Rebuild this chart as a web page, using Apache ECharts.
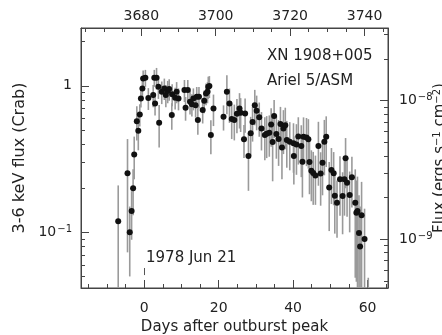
<!DOCTYPE html>
<html>
<head>
<meta charset="utf-8">
<script src="https://cdn.jsdelivr.net/npm/echarts@6/dist/echarts.min.js"></script>
<style>
html, body { margin: 0; padding: 0; background: #fff; }
#main { width: 442px; height: 335px; }
</style>
</head>
<body>
<div id="main"></div>
<script>
// days after outburst peak
var days = [
    -7.0, -4.5, -3.9, -3.4, -3.0, -2.7, -2.0, -1.6, -1.2, -0.9,
    -0.5, -0.3, 0.3, 1.1, 2.4, 2.7, 2.9, 3.3, 3.8, 4.0,
    4.7, 5.4, 5.8, 6.3, 6.7, 7.4, 7.5, 8.3, 8.7, 9.2,
    10.8, 11.1, 11.7, 12.3, 12.8, 13.2, 13.8, 14.1, 14.4, 14.7,
    15.7, 16.1, 16.6, 17.0, 17.2, 17.5, 17.9, 18.6, 21.3, 22.2,
    22.9, 23.5, 24.2, 24.9, 25.6, 25.9, 26.8, 27.1, 28.0, 28.6,
    29.1, 29.7, 30.2, 30.9, 31.5, 32.4, 32.9, 33.6, 34.1, 34.5,
    34.9, 35.5, 36.1, 36.6, 37.0, 37.4, 37.9, 38.3, 39.1, 40.1,
    40.2, 40.9, 41.4, 42.2, 42.5, 42.8, 43.6, 44.1, 44.4, 44.9,
    45.4, 46.0, 46.8, 47.4, 47.9, 48.4, 48.9, 49.7, 50.3, 50.9,
    51.2, 51.8, 52.6, 53.3, 53.8, 54.1, 54.5, 55.2, 55.8, 56.7,
    57.0, 57.3, 57.7, 58.0, 58.4, 59.2, 60.2
];
// 3-6 keV flux (Crab)
var flux = [
    0.119, 0.253, 0.100, 0.140, 0.200, 0.340, 0.574, 0.493, 0.638, 0.820,
    0.960, 1.123, 1.134, 0.824, 0.864, 1.134, 0.758, 1.134, 0.984, 0.559,
    0.910, 0.960, 0.864, 0.920, 0.950, 0.631, 0.874, 0.828, 0.910, 0.820,
    0.935, 0.708, 0.935, 0.778, 0.747, 0.820, 0.738, 0.841, 0.584, 0.841,
    0.683, 0.790, 0.887, 0.910, 0.984, 0.995, 0.461, 0.701, 0.615, 0.910,
    0.758, 0.593, 0.584, 0.644, 0.701, 0.654, 0.431, 0.648, 0.332, 0.474,
    0.566, 0.738, 0.677, 0.609, 0.512, 0.461, 0.471, 0.478, 0.544, 0.413,
    0.621, 0.468, 0.434, 0.548, 0.380, 0.512, 0.539, 0.426, 0.415, 0.405,
    0.332, 0.397, 0.450, 0.388, 0.303, 0.449, 0.443, 0.432, 0.302, 0.263,
    0.254, 0.244, 0.388, 0.252, 0.299, 0.415, 0.449, 0.202, 0.266, 0.253,
    0.178, 0.159, 0.230, 0.177, 0.230, 0.320, 0.218, 0.180, 0.238, 0.159,
    0.136, 0.140, 0.099, 0.080, 0.131, 0.090, 0.030
];
// 1 sigma errors (Crab)
var fluxErr = [
    0.09, 0.18, 0.05, 0.051, 0.069, 0.11, 0.15, 0.13, 0.11, 0.11,
    0.13, 0.15, 0.15, 0.14, 0.15, 0.15, 0.13, 0.19, 0.17, 0.18,
    0.16, 0.16, 0.15, 0.16, 0.16, 0.13, 0.15, 0.14, 0.15, 0.14,
    0.16, 0.13, 0.16, 0.14, 0.13, 0.14, 0.13, 0.14, 0.12, 0.14,
    0.13, 0.14, 0.15, 0.15, 0.17, 0.17, 0.12, 0.17, 0.12, 0.27,
    0.20, 0.16, 0.16, 0.17, 0.19, 0.17, 0.11, 0.17, 0.14, 0.14,
    0.15, 0.20, 0.18, 0.16, 0.15, 0.15, 0.15, 0.15, 0.16, 0.19,
    0.18, 0.15, 0.15, 0.17, 0.15, 0.17, 0.17, 0.15, 0.15, 0.15,
    0.12, 0.15, 0.16, 0.15, 0.13, 0.16, 0.16, 0.16, 0.12, 0.10,
    0.10, 0.09, 0.18, 0.10, 0.12, 0.17, 0.17, 0.10, 0.11, 0.10,
    0.08, 0.067, 0.10, 0.08, 0.10, 0.12, 0.09, 0.08, 0.09, 0.11,
    0.09, 0.10, 0.08, 0.07, 0.09, 0.055, 0.019
];

// axis ticks
var dayTicks = [0, 20, 40, 60];
var dayMinor = [-15, -10, -5, 5, 10, 15, 25, 30, 35, 45, 50, 55, 65];
var jdTicks = [3680, 3700, 3720, 3740];
var jdMinor = [3665, 3670, 3675, 3685, 3690, 3695, 3705, 3710, 3715, 3725, 3730, 3735, 3745];
var crabTicks = [0.1, 1];
var crabMinor = [0.05, 0.06, 0.07, 0.08, 0.09, 0.2, 0.3, 0.4, 0.5, 0.6, 0.7, 0.8, 0.9, 2];
var ergTicks = [1e-9, 1e-8];
var ergMinor = [5e-10, 6e-10, 7e-10, 8e-10, 9e-10, 2e-9, 3e-9, 4e-9, 5e-9, 6e-9, 7e-9, 8e-9, 9e-9, 2e-8, 3e-8];

// axis ranges
var dayMin = -17, dayMax = 65.5;
var jdOffset = 3680.8;
var crabMin = 0.0417, crabMax = 2.48;
var ergMin = 4.44e-10, ergMax = 3.35e-8;

// "1978 Jun 21" marker
var dateMarkDay = 0;
var dateMarkLo = 0.0511, dateMarkHi = 0.0571;

var FONT = 'DejaVu Sans';
var TXT = '#222';
var AXC = '#444';

function lg(v) { return Math.log10(v); }

function powLabel(v) {
    var e = Math.round(v);
    if (e === 0) return '1';
    return '10{sup|' + (e < 0 ? '\u2212' + (-e) : e) + '}';
}

function plainLabel(v) {
    return String(Math.round(v));
}

var labelStyle = {
    color: TXT, fontFamily: FONT, fontSize: 14,
    rich: { sup: { fontSize: 10, fontFamily: FONT, color: TXT, verticalAlign: 'top', padding: [0, 0, 6, 1] } }
};

function majorAxis(extra) {
    var a = {
        type: 'value',
        axisLine: { show: true, onZero: false, lineStyle: { color: AXC, width: 1 } },
        axisTick: { show: true, inside: true, length: 8, lineStyle: { color: AXC, width: 1 } },
        axisLabel: Object.assign({}, labelStyle),
        splitLine: { show: false }
    };
    for (var k in extra) {
        if (k === 'ticks') {
            a.axisTick.customValues = extra.ticks;
            a.axisLabel.customValues = extra.ticks;
        } else if (k === 'labelOpt') {
            Object.assign(a.axisLabel, extra.labelOpt);
        } else {
            a[k] = extra[k];
        }
    }
    return a;
}

function minorAxis(extra) {
    var a = {
        type: 'value',
        axisLine: { show: false, onZero: false },
        axisTick: { show: true, inside: true, length: 4, lineStyle: { color: AXC, width: 1 } },
        axisLabel: { show: false },
        splitLine: { show: false }
    };
    for (var k in extra) {
        if (k === 'ticks') a.axisTick.customValues = extra.ticks;
        else a[k] = extra[k];
    }
    return a;
}

var barData = [];
var pointData = [];
for (var i = 0; i < days.length; i++) {
    var lo = Math.max(flux[i] - fluxErr[i], crabMin);
    var hi = Math.min(flux[i] + fluxErr[i], crabMax);
    barData.push([days[i], lg(lo), lg(hi)]);
    pointData.push([days[i], lg(flux[i])]);
}

var myChart = echarts.init(document.getElementById('main'));

var option = {
    backgroundColor: '#fff',
    animation: false,
    grid: {
        left: 81, right: 54, top: 28, bottom: 47,
        outerBoundsMode: 'none', containLabel: false,
        show: true, borderColor: AXC, borderWidth: 1, backgroundColor: 'transparent'
    },
    xAxis: [
        majorAxis({
            position: 'bottom', min: dayMin, max: dayMax, ticks: dayTicks,
            labelOpt: { margin: 13, formatter: plainLabel },
            name: 'Days after outburst peak', nameLocation: 'middle', nameGap: 31,
            nameTextStyle: { color: TXT, fontFamily: FONT, fontSize: 15 }
        }),
        minorAxis({ position: 'bottom', min: dayMin, max: dayMax, ticks: dayMinor }),
        majorAxis({
            position: 'top', min: dayMin + jdOffset, max: dayMax + jdOffset, ticks: jdTicks,
            labelOpt: { margin: 5, formatter: plainLabel }
        }),
        minorAxis({ position: 'top', min: dayMin + jdOffset, max: dayMax + jdOffset, ticks: jdMinor })
    ],
    yAxis: [
        majorAxis({
            position: 'left', min: lg(crabMin), max: lg(crabMax), ticks: crabTicks.map(lg),
            labelOpt: { margin: 9, formatter: powLabel },
            name: '3-6 keV flux (Crab)', nameLocation: 'middle', nameGap: 46,
            nameTextStyle: { color: TXT, fontFamily: FONT, fontSize: 16 }
        }),
        minorAxis({ position: 'left', min: lg(crabMin), max: lg(crabMax), ticks: crabMinor.map(lg) }),
        majorAxis({
            position: 'right', min: lg(ergMin), max: lg(ergMax), ticks: ergTicks.map(lg),
            labelOpt: { margin: 11, formatter: powLabel },
            name: 'Flux (ergs s{sup|\u22121} cm{sup|\u22122})', nameLocation: 'middle', nameGap: 44,
            nameMoveOverlap: false,
            nameTextStyle: {
                color: TXT, fontFamily: FONT, fontSize: 15,
                rich: { sup: { fontSize: 10, fontFamily: FONT, color: TXT, verticalAlign: 'top', padding: [0, 0, 6, 0] } }
            }
        }),
        minorAxis({ position: 'right', min: lg(ergMin), max: lg(ergMax), ticks: ergMinor.map(lg) })
    ],
    graphic: [
        { type: 'text', x: 267, y: 56, style: { text: 'XN 1908+005', font: '15px "DejaVu Sans"', fill: TXT, verticalAlign: 'middle' } },
        { type: 'text', x: 267, y: 81, style: { text: 'Ariel 5/ASM', font: '15px "DejaVu Sans"', fill: TXT, verticalAlign: 'middle' } },
        { type: 'text', x: 146, y: 258, style: { text: '1978 Jun 21', font: '15px "DejaVu Sans"', fill: TXT, verticalAlign: 'middle' } }
    ],
    series: [
        {
            // error bars
            type: 'custom',
            xAxisIndex: 0,
            yAxisIndex: 0,
            data: barData,
            z: 1,
            renderItem: function (params, api) {
                var p1 = api.coord([api.value(0), api.value(2)]);
                var p2 = api.coord([api.value(0), api.value(1)]);
                return {
                    type: 'line',
                    shape: { x1: p1[0], y1: p1[1], x2: p2[0], y2: p2[1] },
                    style: { stroke: '#9a9a9a', lineWidth: 1.6 }
                };
            }
        },
        {
            type: 'scatter',
            xAxisIndex: 0,
            yAxisIndex: 0,
            data: pointData,
            symbolSize: 6,
            itemStyle: { color: '#111', opacity: 1 },
            z: 3,
            markLine: {
                silent: true,
                symbol: 'none',
                label: { show: false },
                lineStyle: { color: '#555', width: 1, type: 'solid' },
                data: [[
                    { coord: [dateMarkDay, lg(dateMarkLo)] },
                    { coord: [dateMarkDay, lg(dateMarkHi)] }
                ]]
            }
        },
        {
            // keeps the top / right axes attached to a series
            type: 'scatter',
            xAxisIndex: 2,
            yAxisIndex: 2,
            data: []
        }
    ]
};

myChart.setOption(option);
</script>
</body>
</html>
